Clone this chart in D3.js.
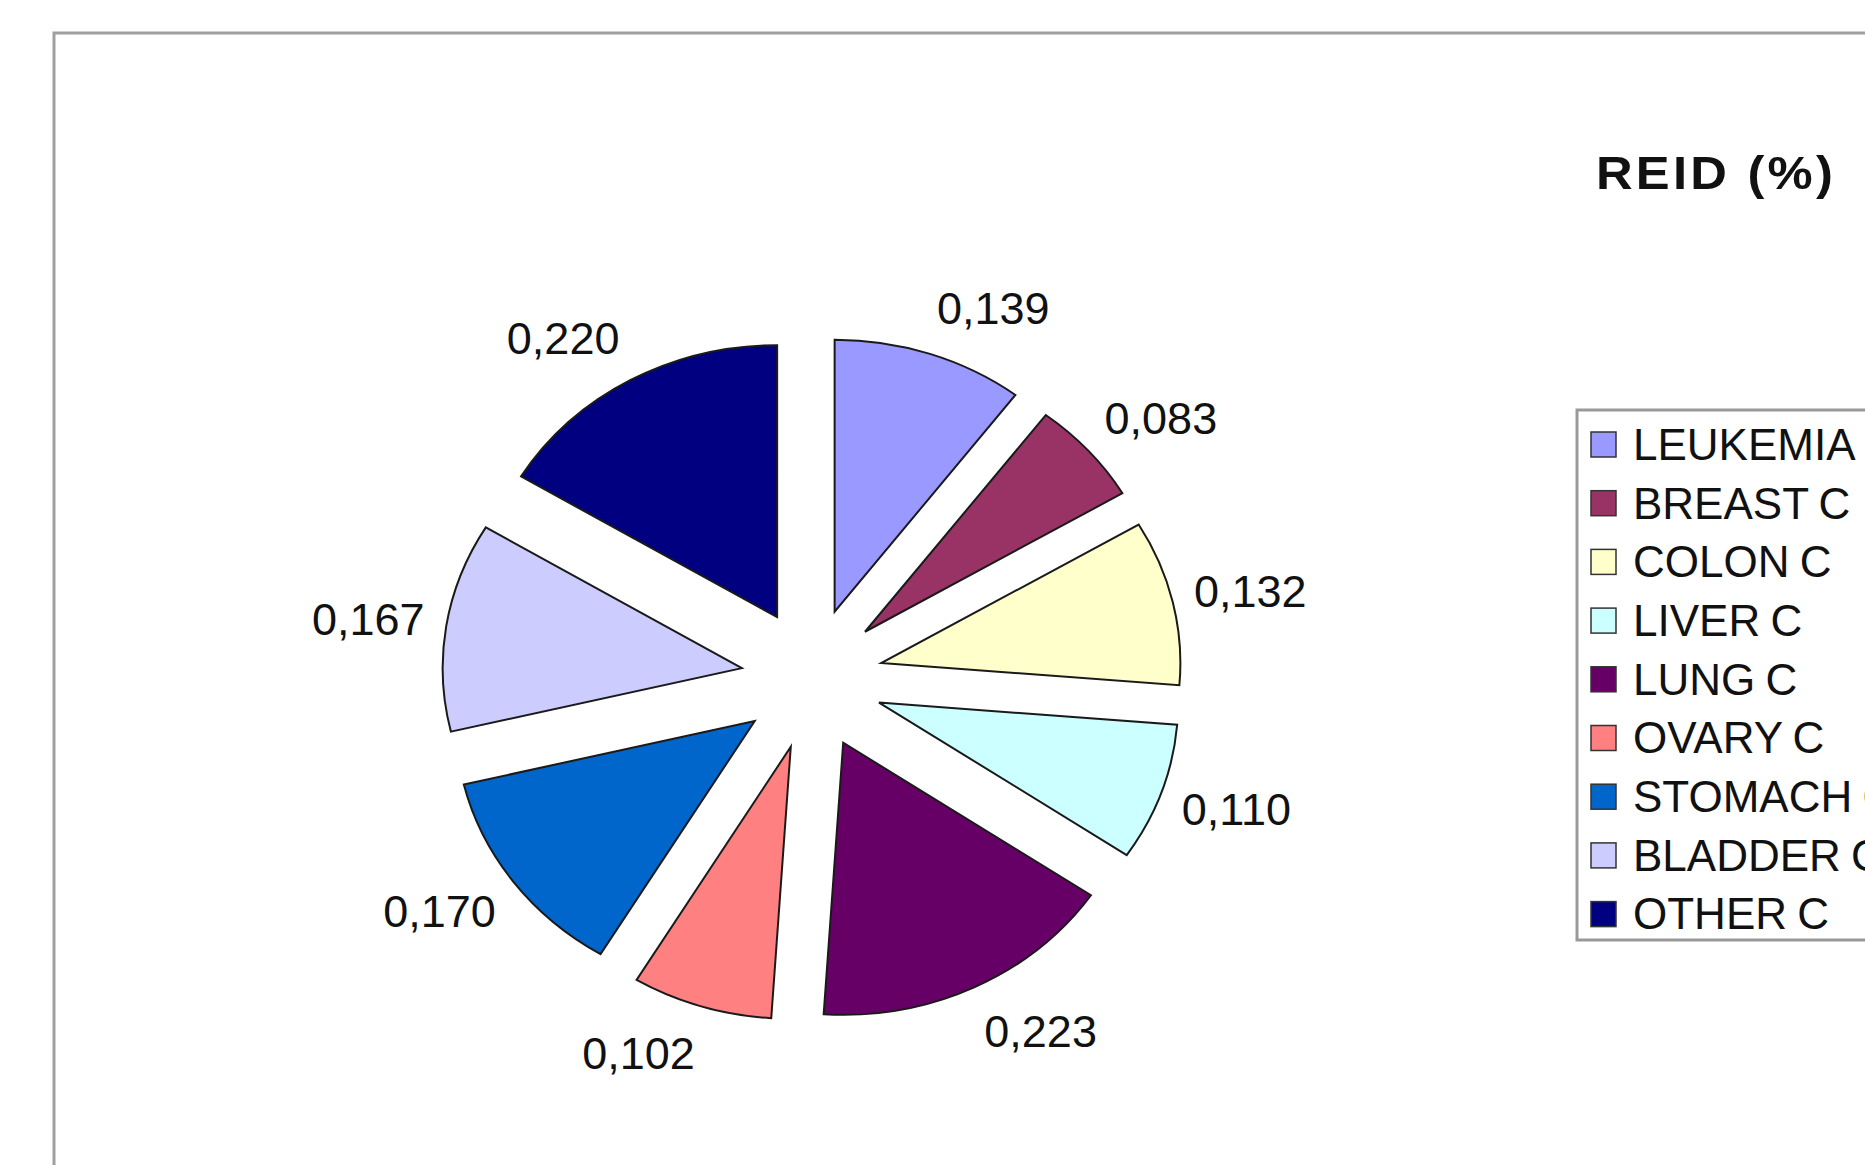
<!DOCTYPE html>
<html><head><meta charset="utf-8">
<script src="https://cdn.jsdelivr.net/npm/d3@7"></script>
<style>html,body{margin:0;padding:0;background:#fff;overflow:hidden}</style>
</head><body>
<svg id="chart" width="1865" height="1165"></svg>
<script>
const categories = ["LEUKEMIA","BREAST C","COLON C","LIVER C","LUNG C","OVARY C","STOMACH C","BLADDER C","OTHER C"];
const values = [0.139,0.083,0.132,0.110,0.223,0.102,0.170,0.167,0.220];
const colors = ["#9999FF","#993366","#FFFFCC","#CCFFFF","#660066","#FF8080","#0066CC","#CCCCFF","#000080"];
const title = "REID (%)";

const svg = d3.select("#chart");
const font = "'Liberation Sans', Arial, sans-serif";
svg.append("rect").attr("width",1865).attr("height",1165).attr("fill","#fff");
// chart frame
svg.append("rect").attr("x",54).attr("y",33).attr("width",1900).attr("height",1200)
  .attr("fill","none").attr("stroke","#a0a0a0").attr("stroke-width",3);

const cx = 812, cy = 679, r = 272, sx = 1.1, explode = 71, labelR = 392;
const pie = d3.pie().sort(null).value(d=>d)(values);
const arc = d3.arc().innerRadius(0).outerRadius(r);
const fmtLocale = d3.formatLocale({decimal:",",thousands:".",grouping:[3],currency:["",""]});
const fmt = fmtLocale.format(".3f");
const mid = d => (d.startAngle+d.endAngle)/2;

const g = svg.append("g").attr("transform",`translate(${cx},${cy})`);
g.selectAll("path").data(pie).join("path")
  .attr("d",arc)
  .attr("transform",d=>`translate(${explode*Math.sin(mid(d))},${-explode*Math.cos(mid(d))}) scale(${sx},1)`)
  .attr("fill",(d,i)=>colors[i])
  .attr("stroke","#1a1a1a").attr("stroke-width",2).attr("vector-effect","non-scaling-stroke");

g.selectAll("text.lbl").data(pie).join("text").attr("class","lbl")
  .attr("x",d=>labelR*Math.sin(mid(d)))
  .attr("y",d=>-labelR*Math.cos(mid(d)))
  .attr("dy","0.36em")
  .attr("text-anchor",d=>mid(d)<Math.PI?"start":"end")
  .attr("font-family",font).attr("font-size",45).attr("fill","#111")
  .text(d=>fmt(d.value));

// title
svg.append("g").attr("transform","translate(1716,172) scale(1.08,1)")
  .append("text").attr("x",0).attr("y",0).attr("dy","0.36em").attr("text-anchor","middle")
  .attr("font-family",font).attr("font-weight","bold").attr("font-size",47).attr("letter-spacing",3)
  .attr("fill","#111").text(title);

// legend
const lx = 1577, ly = 410, rowH = 58.7, firstY = 444;
svg.append("rect").attr("x",lx).attr("y",ly).attr("width",400).attr("height",530)
  .attr("fill","#fff").attr("stroke","#999").attr("stroke-width",3);
const lg = svg.append("g");
const rows = lg.selectAll("g").data(categories).join("g")
  .attr("transform",(d,i)=>`translate(${lx+14},${firstY+i*rowH})`);
rows.append("rect").attr("x",0).attr("y",-12).attr("width",25).attr("height",25)
  .attr("fill",(d,i)=>colors[i]).attr("stroke","#333").attr("stroke-width",1.5);
rows.append("text").attr("x",42).attr("y",0).attr("dy","0.36em").attr("word-spacing",-2)
  .attr("font-family",font).attr("font-size",44).attr("fill","#111").text(d=>d);
</script>
</body></html>
